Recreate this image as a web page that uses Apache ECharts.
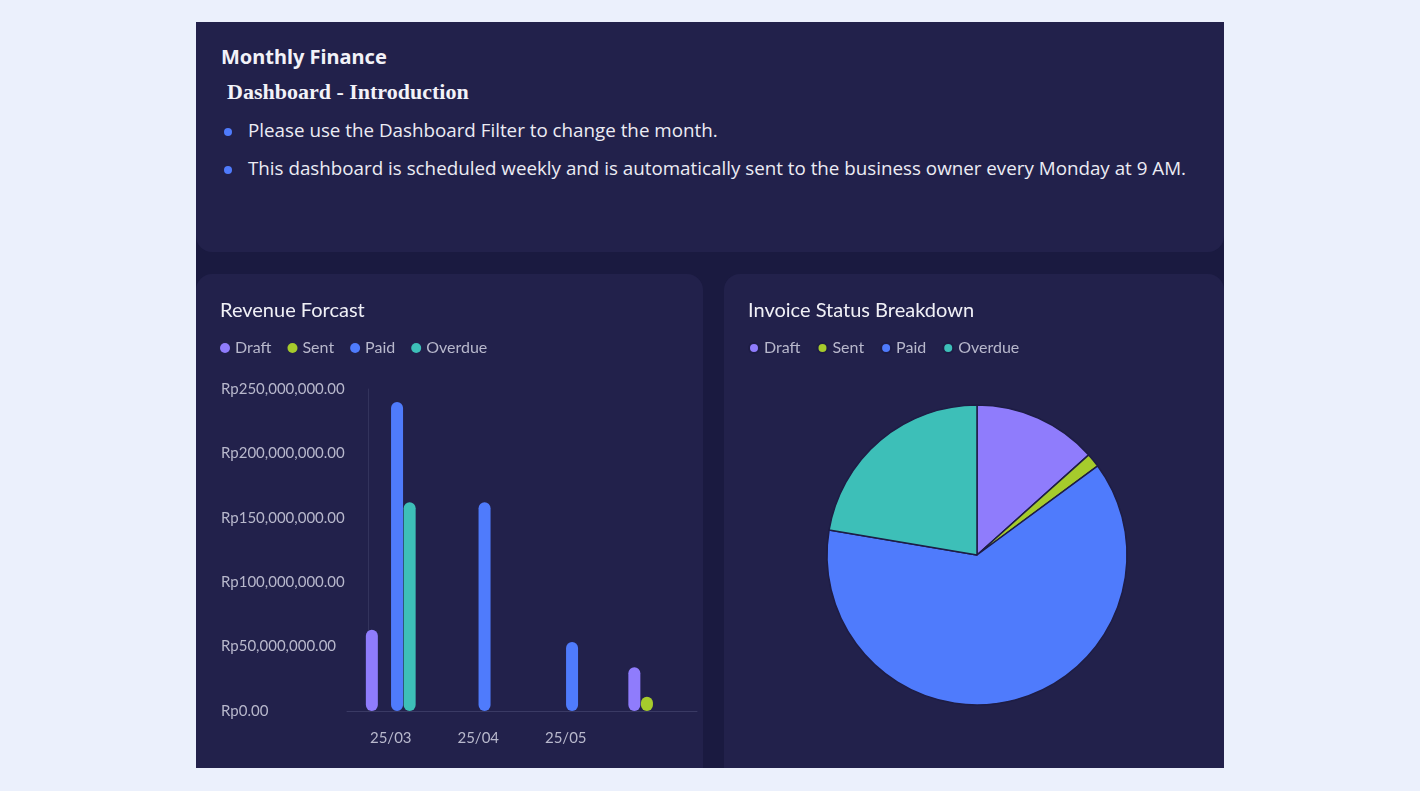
<!DOCTYPE html>
<html><head><meta charset="utf-8">
<script src="https://cdn.jsdelivr.net/npm/echarts@6/dist/echarts.min.js"></script>
<style>
html,body{margin:0;padding:0;background:#ebf0fc;width:1420px;height:791px;overflow:hidden;font-family:"Noto Sans","Open Sans",sans-serif;}
#panel{position:absolute;left:196px;top:22px;width:1028px;height:746px;background:#1a1a40;overflow:hidden;}
.card{position:absolute;background:#22214b;}
#top{left:0;top:0;width:1028px;height:230px;border-radius:0 0 16px 16px;}
#lc{left:0;top:252px;width:507px;height:494px;border-radius:16px 16px 0 0;}
#rc{left:528px;top:252px;width:500px;height:494px;border-radius:16px 16px 0 0;}
.h1{position:absolute;left:25px;top:21px;color:#f2f2f8;font-weight:bold;font-size:20px;}
.h2{position:absolute;left:31px;top:57px;color:#f2f2f8;font-weight:bold;font-size:22px;font-family:"Liberation Serif",serif;}
.b{position:absolute;left:28px;color:#ececf4;font-size:18.8px;font-family:"Open Sans",sans-serif;}
.b span{display:inline-block;width:8px;height:8px;border-radius:4px;background:#4f7bfc;margin-right:16px;vertical-align:middle;}
</style></head><body>
<div id="panel">
 <div id="top" class="card">
  <div class="h1">Monthly Finance</div>
  <div class="h2">Dashboard - Introduction</div>
  <div class="b" style="top:95px"><span></span>Please use the Dashboard Filter to change the month.</div>
  <div class="b" style="top:133px"><span></span>This dashboard is scheduled weekly and is automatically sent to the business owner every Monday at 9 AM.</div>
 </div>
 <div id="lc" class="card"></div>
 <div id="rc" class="card"></div>
</div>
<script>
const categories = ['25/03','25/04','25/05','25/06'];
const seriesNames = ['Draft','Sent','Paid','Overdue'];
const draft = [63000000, 0, 0, 34000000];
const sent = [0, 0, 0, 11000000];
const paid = [240000000, 162000000, 53500000, 0];
const overdue = [162000000, 0, 0, 0];
const colors = ['#8f7cfc','#a6cb2c','#4f7bfc','#3dbfb8'];

const fmt = v => 'Rp' + v.toLocaleString('en-US',{minimumFractionDigits:2,maximumFractionDigits:2});
const legend = {left:19, top:61, icon:'circle', itemWidth:10, itemHeight:10, itemGap:16,
  textStyle:{color:'#b8b8cc', fontSize:16, fontFamily:'Lato'}};
const title = t => ({text:t, left:19, top:22, textStyle:{color:'#f0f0f6', fontSize:20, fontWeight:'normal', fontFamily:'Lato'}});

const bar = echarts.init(document.getElementById('lc'));
const vals = [draft, sent, paid, overdue];
bar.setOption({
  color: colors, title: title('Revenue Forcast'), legend: Object.assign({data:seriesNames}, legend),
  grid:{left:151, width:350, top:115, bottom:57},
  xAxis:{type:'category', data:categories,
    axisLine:{lineStyle:{color:'#3a3a64'}}, axisTick:{show:false},
    axisLabel:{color:'#b8b8cc', fontSize:15, margin:20, interval:(i)=>i<3, fontFamily:'Lato'}},
  yAxis:{type:'value', min:0, max:250000000, interval:50000000, offset:-21,
    axisLine:{show:true, lineStyle:{color:'#33335c'}}, splitLine:{show:false},
    axisLabel:{color:'#b8b8cc', fontSize:15, align:'left', margin:147, formatter:fmt, fontFamily:'Lato'}},
  series: seriesNames.map((n,i)=>({name:n, type:'bar', data:vals[i], barWidth:12, barGap:'5%',
    itemStyle:{borderRadius:6}}))
});

const pie = echarts.init(document.getElementById('rc'));
const sum = a => a.reduce((s,v)=>s+v,0);
pie.setOption({
  color: colors, title: title('Invoice Status Breakdown'), legend: Object.assign({data:seriesNames}, legend),
  series:[{type:'pie', center:[253,281], radius:150, startAngle:90, label:{show:false}, labelLine:{show:false},
    itemStyle:{borderColor:'#1e1d45', borderWidth:1.5},
    data: seriesNames.map((n,i)=>({name:n, value:sum(vals[i])}))}]
});
</script>
</body></html>
